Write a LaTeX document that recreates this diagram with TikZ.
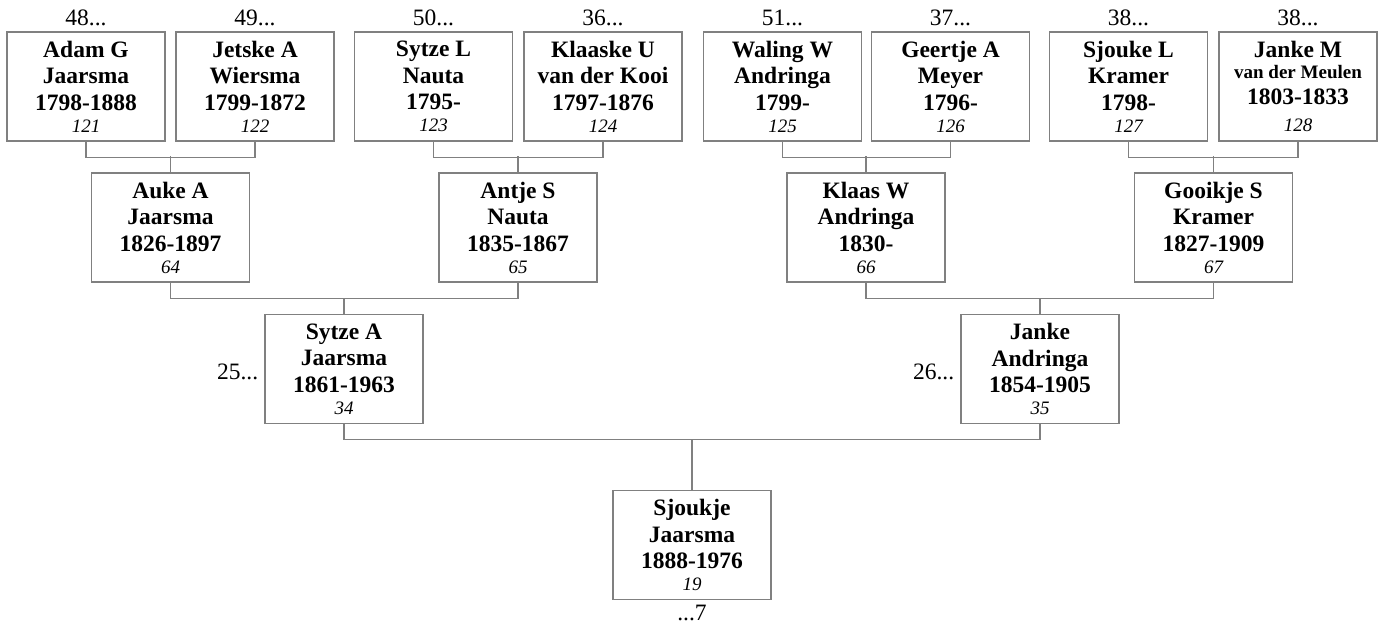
\documentclass[tikz,border=0pt]{standalone}
\usepackage{fontspec}
\setmainfont{Liberation Serif}
\usetikzlibrary{positioning}
\definecolor{boxgrey}{RGB}{128,128,128}
\newcommand{\refno}[1]{{\fontsize{19}{22}\selectfont\mdseries\itshape #1}}

\begin{document}
\begin{tikzpicture}[x=1pt, y=1pt,
    person/.style={rectangle, draw=boxgrey, line width=1.3pt,
        minimum width=158pt, minimum height=109pt, inner sep=0pt,
        align=center, font=\fontsize{23.5}{26.5}\selectfont\bfseries},
    link/.style={draw=boxgrey, line width=1.3pt},
    anc/.style={inner sep=0pt, font=\fontsize{23.5}{26.5}\selectfont}
]
    \useasboundingbox (0,0) rectangle (1380,-625);

    % great-great-grandparents
    \node[person] (p121) at (86,-86.5) {Adam G\\Jaarsma\\1798-1888\\[-4.5pt]\refno{121}};
    \node[person] (p122) at (255,-86.5) {Jetske A\\Wiersma\\1799-1872\\[-4.5pt]\refno{122}};
    \node[person] (p123) at (433.5,-86.5) {Sytze L\\Nauta\\1795-\\[-4.5pt]\refno{123}};
    \node[person] (p124) at (603,-86.5) {Klaaske U\\van der Kooi\\1797-1876\\[-4.5pt]\refno{124}};
    \node[person] (p125) at (782.5,-86.5) {Waling W\\Andringa\\1799-\\[-4.5pt]\refno{125}};
    \node[person] (p126) at (950.5,-86.5) {Geertje A\\Meyer\\1796-\\[-4.5pt]\refno{126}};
    \node[person] (p127) at (1128.5,-86.5) {Sjouke L\\Kramer\\1798-\\[-4.5pt]\refno{127}};
    \node[person] (p128) at (1298,-86.5) {Janke M\\[-6pt]{\fontsize{19}{22}\selectfont van der Meulen}\\1803-1833\\\refno{128}};

    \node[anc, above=5pt of p121] (n121) {48...};
    \node[anc, above=5pt of p122] (n122) {49...};
    \node[anc, above=5pt of p123] (n123) {50...};
    \node[anc, above=5pt of p124] (n124) {36...};
    \node[anc, above=5pt of p125] (n125) {51...};
    \node[anc, above=5pt of p126] (n126) {37...};
    \node[anc, above=5pt of p127] (n127) {38...};
    \node[anc, above=5pt of p128] (n128) {38...};

    % great-grandparents
    \node[person] (p64) at (170.5,-227.5) {Auke A\\Jaarsma\\1826-1897\\[-4.5pt]\refno{64}};
    \node[person] (p65) at (518,-227.5) {Antje S\\Nauta\\1835-1867\\[-4.5pt]\refno{65}};
    \node[person] (p66) at (866,-227.5) {Klaas W\\Andringa\\1830-\\[-4.5pt]\refno{66}};
    \node[person] (p67) at (1213.5,-227.5) {Gooikje S\\Kramer\\1827-1909\\[-4.5pt]\refno{67}};

    % grandparents
    \node[person] (p34) at (344,-369) {Sytze A\\Jaarsma\\1861-1963\\[-4.5pt]\refno{34}};
    \node[person] (p35) at (1040,-369) {Janke\\Andringa\\1854-1905\\[-4.5pt]\refno{35}};
    \node[anc, left=6pt of p34, yshift=-3pt] (n34) {25...};
    \node[anc, left=6pt of p35, yshift=-3pt] (n35) {26...};

    % root
    \node[person] (p19) at (692,-545) {Sjoukje\\Jaarsma\\1888-1976\\[-4.5pt]\refno{19}};
    \node[anc, below=4.5pt of p19] (n19) {...7};

    % connectors
    \draw[link] (p121.south) -- ++(0,-16) -| (p122.south) (p64.north) -- ++(0,16);
    \draw[link] (p123.south) -- ++(0,-16) -| (p124.south) (p65.north) -- ++(0,16);
    \draw[link] (p125.south) -- ++(0,-16) -| (p126.south) (p66.north) -- ++(0,16);
    \draw[link] (p127.south) -- ++(0,-16) -| (p128.south) (p67.north) -- ++(0,16);
    \draw[link] (p64.south) -- ++(0,-16) -| (p65.south) (p34.north) -- ++(0,16);
    \draw[link] (p66.south) -- ++(0,-16) -| (p67.south) (p35.north) -- ++(0,16);
    \draw[link] (p34.south) -- ++(0,-15) -| (p35.south) (p19.north) -- ++(0,51);
\end{tikzpicture}
\end{document}
